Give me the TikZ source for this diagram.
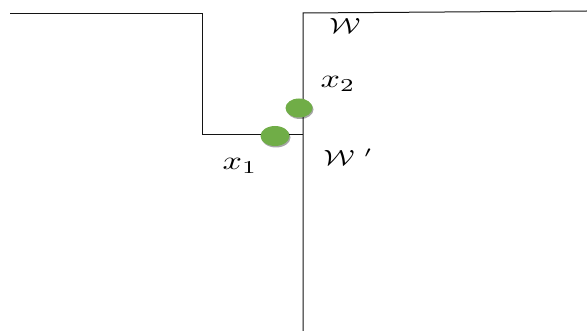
\documentclass[tikz,border=0pt]{standalone}
\usepackage{graphicx}
\usetikzlibrary{shadows,shapes.geometric}
\definecolor{dotgreen}{RGB}{112,173,71}
\definecolor{linegray}{RGB}{20,20,20}
\newcommand{\biglab}[3]{\scalebox{#1}[#2]{#3}}
\begin{document}
\begin{tikzpicture}[x=1pt,y=-1pt,
  wall/.style={draw=linegray,line width=1pt},
  dot/.style={ellipse,fill=dotgreen,draw=none,inner sep=0pt,
    drop shadow={shadow xshift=1pt,shadow yshift=-1.5pt,opacity=0.35,fill=black}},
  lab/.style={inner sep=0pt}]
\useasboundingbox (0,0) rectangle (587,331);
\coordinate (a) at (10,14);
\coordinate (b) at (202,14);
\coordinate (c) at (202,135);
\coordinate (d) at (303,135);
\coordinate (e) at (303,331);
\coordinate (f) at (303,13);
\coordinate (g) at (587,11);
\draw[wall] (a) -- (b) -- (c) -- (d);
\draw[wall] (e) -- (f) -- (g);
\node[dot,minimum width=29pt,minimum height=20pt] (p1) at (275,136) {};
\node[dot,minimum width=27pt,minimum height=19pt] (p2) at (299,108) {};
\node[lab] (W) at (345,26) {\biglab{2.9}{2.2}{$\mathcal{W}$}};
\node[lab] (Wp) at (348,157) {\biglab{2.9}{2.2}{$\mathcal{W}\,\,'$}};
\node[lab] (x2) at (338,84) {\biglab{3.4}{2.6}{$x_2$}};
\node[lab] (x1) at (240,166) {\biglab{3.4}{2.6}{$x_1$}};
\end{tikzpicture}
\end{document}
